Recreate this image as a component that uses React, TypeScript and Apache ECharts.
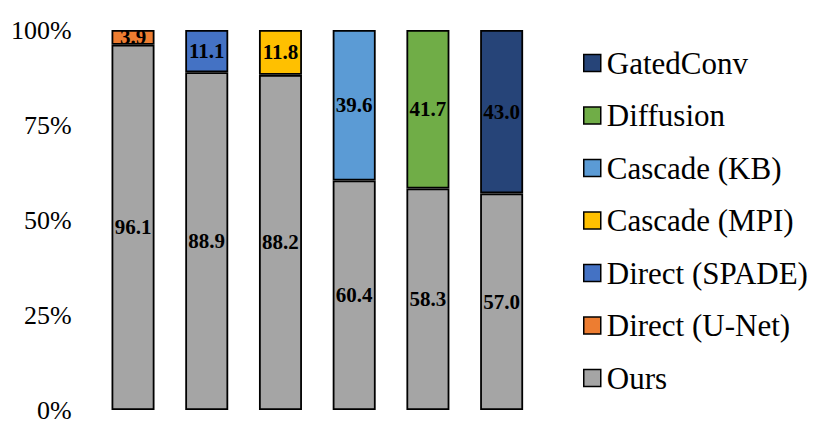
import React, { useEffect, useRef } from "react";
import * as echarts from "echarts";

const categories = ["A", "B", "C", "D", "E", "F"];
const ours = [96.1, 88.9, 88.2, 60.4, 58.3, 57.0];
const directUNet = [3.9, null, null, null, null, null];
const directSPADE = [null, 11.1, null, null, null, null];
const cascadeMPI = [null, null, 11.8, null, null, null];
const cascadeKB = [null, null, null, 39.6, null, null];
const diffusion = [null, null, null, null, 41.7, null];
const gatedConv = [null, null, null, null, null, 43.0];
const yTicks = [0, 25, 50, 75, 100];

const FONT = "Liberation Serif";

const seriesDefs = [
  { name: "Ours", data: ours, color: "#A5A5A5" },
  { name: "Direct (U-Net)", data: directUNet, color: "#ED7D31" },
  { name: "Direct (SPADE)", data: directSPADE, color: "#4472C4" },
  { name: "Cascade (MPI)", data: cascadeMPI, color: "#FFC000" },
  { name: "Cascade (KB)", data: cascadeKB, color: "#5B9BD5" },
  { name: "Diffusion", data: diffusion, color: "#70AD47" },
  { name: "GatedConv", data: gatedConv, color: "#264478" },
];

export default function App() {
  const ref = useRef<HTMLDivElement>(null);
  useEffect(() => {
    if (!ref.current) return;
    const chart = echarts.init(ref.current, null, { renderer: "svg" });
    chart.setOption({
      animation: false,
      backgroundColor: "#ffffff",
      textStyle: { fontFamily: FONT },
      grid: { left: 86.5, top: 22, width: 444, height: 380 },
      xAxis: {
        type: "category",
        data: categories,
        axisLine: { show: false },
        axisTick: { show: false },
        axisLabel: { show: false },
      },
      yAxis: {
        type: "value",
        min: yTicks[0],
        max: yTicks[yTicks.length - 1],
        interval: 25,
        axisLine: { show: false },
        axisTick: { show: false },
        splitLine: { show: false },
        axisLabel: {
          formatter: "{value}%",
          fontSize: 26,
          fontFamily: FONT,
          color: "#000",
          margin: 24.5,
        },
      },
      legend: {
        orient: "vertical",
        left: 575,
        top: 39.5,
        padding: 0,
        icon: "rect",
        itemWidth: 17,
        itemHeight: 17,
        itemGap: 21.5,
        data: seriesDefs.map((s) => s.name).reverse(),
        textStyle: {
          fontSize: 31,
          fontFamily: FONT,
          color: "#000",
          lineHeight: 31,
          padding: [0, 0, 0, 1],
        },
        itemStyle: { borderColor: "#000", borderWidth: 1.5 },
      },
      series: seriesDefs.map((s) => ({
        name: s.name,
        type: "bar",
        stack: "total",
        barWidth: 43,
        data: s.data,
        itemStyle: { color: s.color, borderColor: "#000", borderWidth: 1.8 },
        label: {
          show: true,
          position: "inside",
          fontSize: 21,
          fontWeight: "bold",
          fontFamily: FONT,
          color: "#000",
          formatter: (p: any) => (p.value == null ? "" : Number(p.value).toFixed(1)),
        },
      })),
    });
    return () => chart.dispose();
  }, []);
  return <div ref={ref} style={{ width: 814, height: 424 }} />;
}
